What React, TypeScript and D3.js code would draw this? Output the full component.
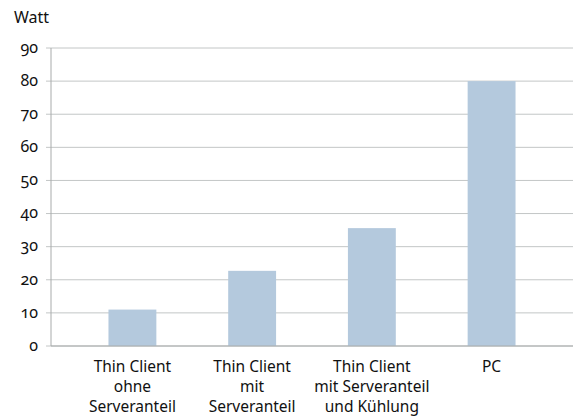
import React from "react";
import * as d3 from "d3";

const categories: string[][] = [
  ["Thin Client", "ohne", "Serveranteil"],
  ["Thin Client", "mit", "Serveranteil"],
  ["Thin Client", "mit Serveranteil", "und Kühlung"],
  ["PC"],
];
const values: number[] = [11, 22.7, 35.6, 80];
const yTicks: number[] = [0, 10, 20, 30, 40, 50, 60, 70, 80, 90];
const unitLabel = "Watt";

const W = 573;
const H = 417;
const left = 51;
const right = 573;
const top = 48;
const bottom = 346;

export default function App() {
  const y = d3.scaleLinear().domain([0, 90]).range([bottom, top]);
  const x = d3
    .scalePoint<number>()
    .domain(values.map((_, i) => i))
    .range([left, right])
    .padding(0.68);
  const bw = x.step() * 0.4;
  const font = "'Noto Sans', 'Open Sans', sans-serif";
  return (
    <svg
      width={W}
      height={H}
      style={{ position: "absolute", left: 0, top: 0, fontFamily: font }}
    >
      <rect width={W} height={H} fill="#fff" />
      <text x={14} y={23} fontSize={16} fill="#111">
        {unitLabel}
      </text>
      {yTicks.map((t) => (
        <g key={t}>
          <line
            x1={left - 5}
            x2={right}
            y1={y(t)}
            y2={y(t)}
            stroke="#c3c6c6"
            strokeWidth={1}
          />
          <text
            x={38}
            y={y(t)}
            dy="0.3em"
            fontSize={16}
            textAnchor="end"
            fill="#111"
            style={{ fontFeatureSettings: "'onum' 1", fontVariantNumeric: "oldstyle-nums" }}
          >
            {t}
          </text>
        </g>
      ))}
      <line x1={left} x2={left} y1={top} y2={bottom} stroke="#a8abab" strokeWidth={1} />
      {values.map((v, i) => (
        <rect
          key={i}
          x={(x(i) as number) - bw / 2}
          y={y(v)}
          width={bw}
          height={y(0) - y(v)}
          fill="#b4c9dd"
        />
      ))}
      <line x1={left} x2={right} y1={bottom} y2={bottom} stroke="#a8abab" strokeWidth={1} />
      {categories.map((lines, i) => (
        <text key={i} textAnchor="middle" fontSize={15.5} fill="#111">
          {lines.map((l, j) => (
            <tspan key={j} x={x(i)} y={372 + j * 20}>
              {l}
            </tspan>
          ))}
        </text>
      ))}
    </svg>
  );
}
